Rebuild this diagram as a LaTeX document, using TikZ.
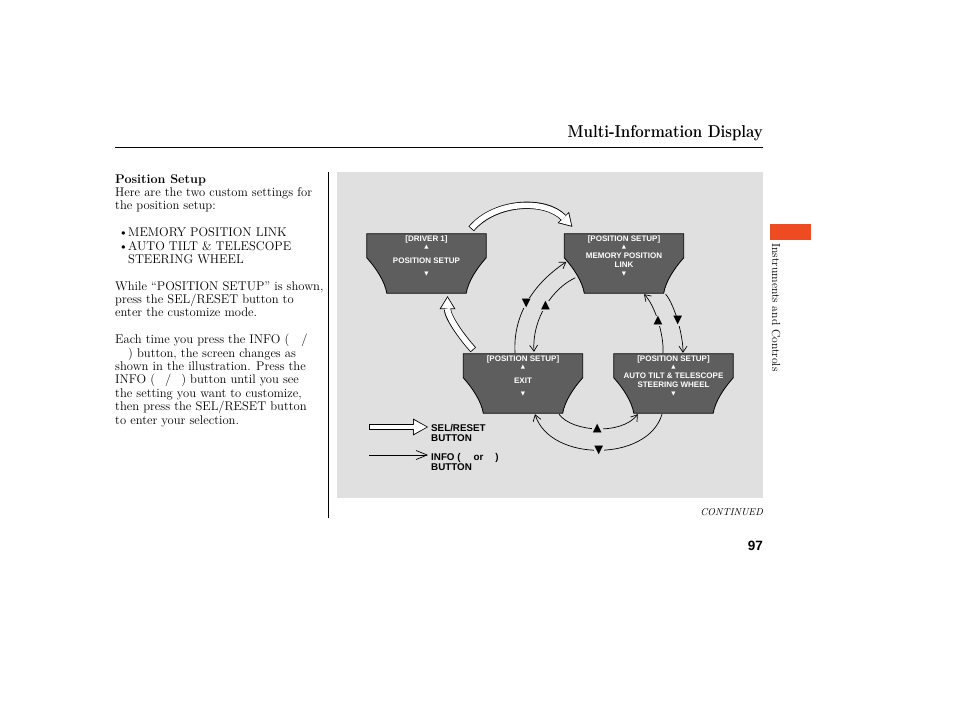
\documentclass[tikz,border=0pt]{standalone}
\usepackage{fontspec}
\usepackage{graphicx}
\usetikzlibrary{arrows.meta,calc}
\newfontfamily\arialf{Liberation Sans}
\newfontfamily\dejavu{DejaVu Sans}
\definecolor{panelgray}{HTML}{E0E0E0}
\definecolor{scrgray}{HTML}{5F5E5E}
\definecolor{tabred}{HTML}{EE4B22}
\pgfdeclarelayer{bg}
\pgfdeclarelayer{shp}
\pgfsetlayers{bg,shp,main}
\begin{document}
\begin{tikzpicture}[x=1pt,y=-1pt,
  scr/.style={minimum width=119pt,minimum height=59pt,inner sep=0pt,draw=none},
  scrshape/.style={fill=scrgray,draw=black,line width=0.8pt},
  st/.style={text=white,font=\arialf\bfseries\fontsize{8}{8}\selectfont,inner sep=0pt,text height=5.7pt,text depth=0pt},
  tri/.style={text=white,font=\dejavu\fontsize{5.5}{6}\selectfont,inner sep=0pt},
  info/.style={line width=0.7pt,-{Straight Barb[length=6pt,width=8pt]}},
  mk/.style={fill=panelgray,inner sep=0.8pt,font=\dejavu\fontsize{11.5}{11.5}\selectfont},
  holo/.style={line width=7.2pt,line cap=butt,-{Triangle[length=13pt,width=16pt,line width=0pt]}},
  holi/.style={white,line width=5.6pt,line cap=butt,shorten <=0.8pt,shorten >=1.5pt,-{Triangle[length=10.7pt,width=13pt,line width=0pt]}},
  holoL/.style={line width=6pt,line cap=butt,-{Triangle[length=15pt,width=17pt,line width=0pt]}},
  holiL/.style={white,line width=4.4pt,line cap=butt,shorten <=0.8pt,shorten >=1.5pt,-{Triangle[length=12.7pt,width=14pt,line width=0pt]}},
  body/.style={anchor=base west,inner sep=0pt,font=\fontsize{12.6}{13.4}\selectfont},
  leg/.style={anchor=base west,inner sep=0pt,font=\arialf\bfseries\fontsize{9.8}{10}\selectfont},
]
\useasboundingbox (0,0) rectangle (954,710);
\begin{pgfonlayer}{bg}
\fill[white] (0,0) rectangle (954,710);
\fill[panelgray] (337,172) rectangle (763,498);
\end{pgfonlayer}

% header
\node[anchor=base east,inner sep=0pt,font=\bfseries\fontsize{15}{17}\selectfont] (title) at (763,137.5) {\scalebox{1}[1.15]{Multi-Information Display}};
\draw[line width=1pt] (115,147) -- (763,147);
\draw[line width=1pt] (328,172) -- (328,518);
\fill[tabred] (770,224) rectangle (811,240);
\node[rotate=-90,anchor=west,inner sep=0pt,font=\fontsize{11.7}{12}\selectfont] (side) at (776,243) {Instruments and Controls};
\node[anchor=base east,inner sep=0pt,font=\itshape\fontsize{10}{12}\selectfont] (cont) at (763,515) {CONTINUED};
\node[anchor=base east,inner sep=0pt,font=\arialf\bfseries\fontsize{13.5}{15}\selectfont] (pg) at (763,550) {97};

% left column
\node[body,font=\bfseries\fontsize{12.6}{13.4}\selectfont] (l0) at (115,183) {Position Setup};
\node[body] (l1) at (115,196.4) {Here are the two custom settings for};
\node[body] (l2) at (115,209.8) {the position setup:};
\node[body] (d3) at (118.5,236.6) {\textbullet};
\node[body] (l3) at (128,236.6) {MEMORY POSITION LINK};
\node[body] (d4) at (118.5,250) {\textbullet};
\node[body] (l4) at (128,250) {AUTO TILT \& TELESCOPE};
\node[body] (l5) at (128,263.4) {STEERING WHEEL};
\node[body] (l6) at (115,290) {While “POSITION SETUP” is shown,};
\node[body] (l7) at (115,303.4) {press the SEL/RESET button to};
\node[body] (l8) at (115,316.8) {enter the customize mode.};
\node[body] (l9) at (115,343.6) {Each time you press the INFO (\hspace{12pt}/};
\node[body] (l10) at (128,357) {) button, the screen changes as};
\node[body] (l11) at (115,370.4) {shown in the illustration. Press the};
\node[body] (l12) at (115,383.8) {INFO (\hspace{10pt}/\hspace{10pt}) button until you see};
\node[body] (l13) at (115,397.2) {the setting you want to customize,};
\node[body] (l14) at (115,410.6) {then press the SEL/RESET button};
\node[body] (l15) at (115,424) {to enter your selection.};

% screens
\node[scr] (b1) at (426.5,263.5) {};
\node[scr] (b2) at (624,263.5) {};
\node[scr] (b3) at (523,383.5) {};
\node[scr] (b4) at (673.5,383.5) {};
\begin{pgfonlayer}{shp}
\foreach \n in {b1,b2,b3,b4}{
 \draw[scrshape] (\n.north west) -- (\n.north east) -- ($(\n.north east)+(0,24)$)
  .. controls +(-9,10) and +(2,-12) .. ($(\n.south east)+(-20,0)$)
  -- ($(\n.south west)+(20,0)$)
  .. controls +(-2,-12) and +(9,10) .. ($(\n.north west)+(0,24)$) -- cycle;
}
\end{pgfonlayer}

\node[st] (b1a) at ($(b1.north)+(0,5)$) {[DRIVER 1]};
\node[tri] (b1b) at ($(b1.north)+(0,13)$) {▲};
\node[st] (b1c) at ($(b1.north)+(0,27)$) {POSITION SETUP};
\node[tri] (b1d) at ($(b1.north)+(0,40)$) {▼};

\node[st] (b2a) at ($(b2.north)+(0,5)$) {[POSITION SETUP]};
\node[tri] (b2b) at ($(b2.north)+(0,13)$) {▲};
\node[st] (b2c) at ($(b2.north)+(0,22)$) {MEMORY POSITION};
\node[st] (b2d) at ($(b2.north)+(0,31)$) {LINK};
\node[tri] (b2e) at ($(b2.north)+(0,40)$) {▼};

\node[st] (b3a) at ($(b3.north)+(0,5)$) {[POSITION SETUP]};
\node[tri] (b3b) at ($(b3.north)+(0,13)$) {▲};
\node[st] (b3c) at ($(b3.north)+(0,27)$) {EXIT};
\node[tri] (b3d) at ($(b3.north)+(0,40)$) {▼};

\node[st] (b4a) at ($(b4.north)+(0,5)$) {[POSITION SETUP]};
\node[tri] (b4b) at ($(b4.north)+(0,13)$) {▲};
\node[st] (b4c) at ($(b4.north)+(0,22)$) {AUTO TILT \& TELESCOPE};
\node[st] (b4d) at ($(b4.north)+(0,31)$) {STEERING WHEEL};
\node[tri] (b4e) at ($(b4.north)+(0,40)$) {▼};

% INFO connectors
\draw[info] ($(b3.north)+(-8,-1)$) .. controls +(-2,-35) and +(-36,24) .. ($(b2.north west)+(2,28)$) node[mk,pos=.5] (m1) {▼};
\draw[info] ($(b2.north west)+(11,44)$) .. controls +(-22,10) and +(-2,-34) .. ($(b3.north)+(11,-2)$) node[mk,pos=.5] (m2) {▲};
\draw[info] ($(b4.north)+(-10.5,-1)$) .. controls +(1,-18) and +(11,11) .. ($(b2.south)+(20,1)$) node[mk,pos=.5] (m3) {▲};
\draw[info] ($(b2.south east)+(-18,1)$) .. controls +(9,11) and +(0,-18) .. ($(b4.north)+(9.5,-1)$) node[mk,pos=.5] (m4) {▼};
\draw[info] ($(b3.south)+(36,1)$) .. controls +(13,18) and +(-16,21) .. ($(b4.south west)+(24,1)$) node[mk,pos=.5] (m5) {▲};
\draw[info] ($(b4.south)+(-11.5,1)$) .. controls +(-14,48) and +(15,48) .. ($(b3.south)+(12,1)$) node[mk,pos=.5] (m6) {▼};

% SEL/RESET hollow arrows
\coordinate (s1a) at ($(b1.north east)+(-15,-5)$);
\coordinate (s1b) at ($(b2.north west)+(8,-7)$);
\draw[holo] (s1a) .. controls +(24,-28) and +(-27,-28) .. (s1b);
\draw[holi] (s1a) .. controls +(24,-28) and +(-27,-28) .. (s1b);
\coordinate (s2a) at ($(b3.north west)+(10,-4)$);
\coordinate (s2b) at ($(b1.south)+(21,3)$);
\draw[holo] (s2a) .. controls +(-11,-12) and +(0,21) .. (s2b);
\draw[holi] (s2a) .. controls +(-11,-12) and +(0,21) .. (s2b);

% legend
\coordinate (la) at (369,427);
\coordinate (lb) at (428,427);
\draw[holoL] (la) -- (lb);
\draw[holiL] (la) -- (lb);
\node[leg] (lg1) at (431,431.7) {SEL/RESET};
\node[leg] (lg2) at (431,441.7) {BUTTON};
\coordinate (lc) at (369,455);
\coordinate (ld) at (428,455);
\draw[line width=0.7pt,-{Straight Barb[length=11pt,width=9pt]}] (lc) -- (ld);
\node[leg] (lg3) at (431,460) {INFO (\hspace{13pt}or\hspace{12pt})};
\node[leg] (lg4) at (431,470) {BUTTON};
\end{tikzpicture}
\end{document}
